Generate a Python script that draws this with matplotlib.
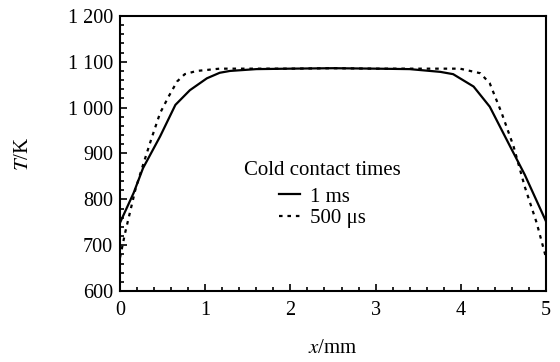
import matplotlib
matplotlib.use("Agg")
import matplotlib.pyplot as plt
from matplotlib.ticker import MultipleLocator, FuncFormatter

plt.rcParams['font.family'] = ['Liberation Serif', 'DejaVu Serif']
plt.rcParams['mathtext.fontset'] = 'stix'

x_1ms = [0, 0.16, 0.27, 0.47, 0.65, 0.82, 1.02, 1.17, 1.29, 1.6, 2.0, 2.5,
         3.0, 3.4, 3.76, 3.91, 4.15, 4.34, 4.58, 4.75, 5.0]
T_1ms = [749, 814, 868, 937, 1006, 1038, 1064, 1076, 1080, 1084, 1085, 1086,
         1085, 1084, 1078, 1073, 1046, 1002, 915, 854, 752]

x_500us = [0, 0.06, 0.18, 0.27, 0.37, 0.47, 0.57, 0.67, 0.76, 0.9, 1.17, 2.0,
           2.5, 3.0, 3.99, 4.23, 4.34, 4.48, 4.62, 4.75, 4.89, 5.0]
T_500us = [673, 727, 821, 875, 933, 988, 1024, 1057, 1073, 1080, 1085, 1085,
           1086, 1085, 1085, 1075, 1053, 988, 915, 828, 749, 673]

legend_title = "Cold contact times"
labels = ["1 ms", "500 μs"]

fig = plt.figure(figsize=(5.6, 3.62), dpi=100)
ax = fig.add_axes([0.2143, 0.196, 0.7607, 0.76])

ax.plot(x_1ms, T_1ms, color='black', lw=1.6, label=labels[0])
ax.plot(x_500us, T_500us, color='black', lw=1.6, linestyle=(0, (1.6, 2.2)), label=labels[1])

ax.set_xlim(0, 5)
ax.set_ylim(600, 1200)
ax.xaxis.set_major_locator(MultipleLocator(1))
ax.xaxis.set_minor_locator(MultipleLocator(0.2))
ax.yaxis.set_major_locator(MultipleLocator(100))
ax.yaxis.set_minor_locator(MultipleLocator(20))
ax.yaxis.set_major_formatter(FuncFormatter(lambda v, p: f"{int(v):,}".replace(",", " ")))

ax.tick_params(which='both', direction='in', top=False, right=False, labelsize=14.5, width=1.2)
ax.tick_params(which='major', length=5)
ax.tick_params(axis='x', which='major', pad=7)
ax.tick_params(axis='y', which='major', pad=5)
ax.tick_params(which='minor', length=3)
for s in ax.spines.values():
    s.set_linewidth(1.5)

ax.set_xlabel("$x$/mm", fontsize=15, labelpad=14)
ax.set_ylabel("$T$/K", fontsize=15, labelpad=25)

leg = ax.legend(title=legend_title, loc='center', bbox_to_anchor=(0.476, 0.35),
                frameon=False, fontsize=15, title_fontsize=15,
                handlelength=1.0, handletextpad=0.5, labelspacing=0.1,
                borderpad=0.2)
leg._legend_box.sep = 5

fig.savefig("out.png", dpi=100)
